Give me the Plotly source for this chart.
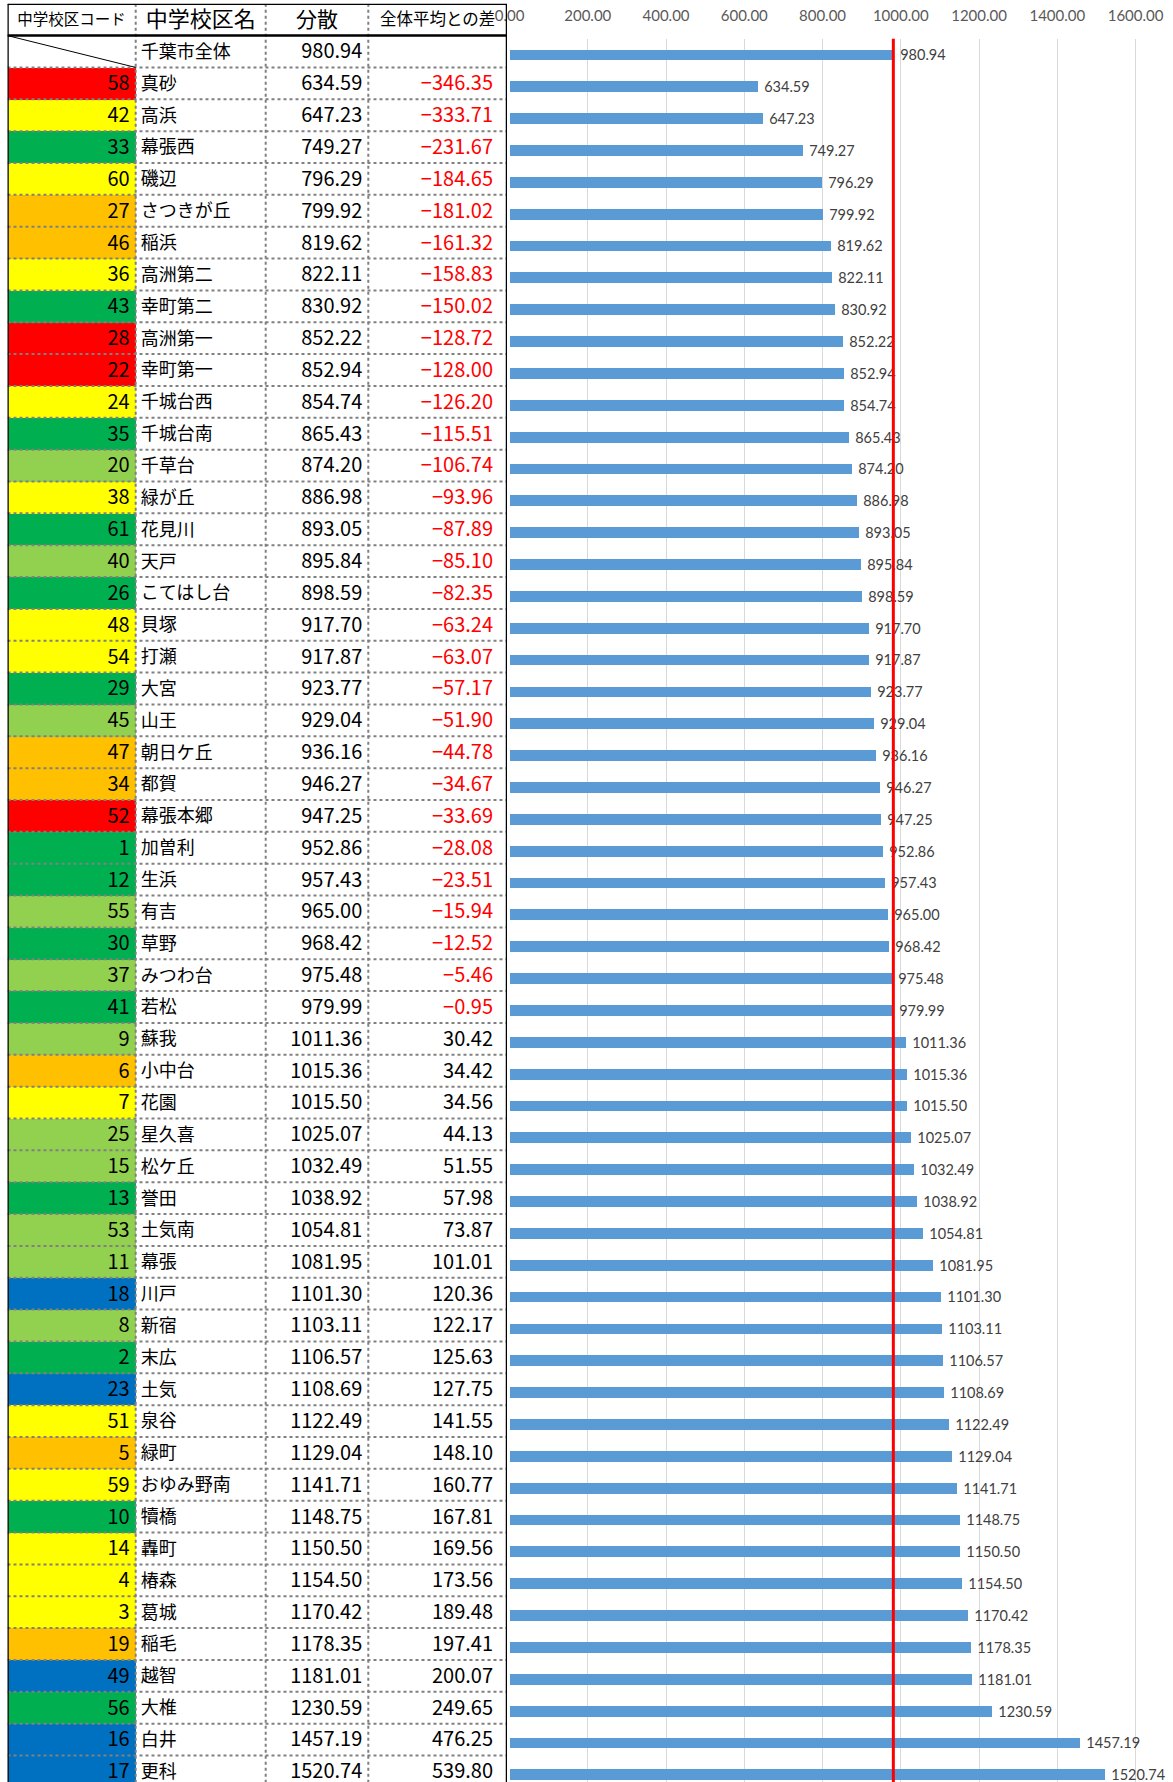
import plotly.graph_objects as go

# ---------------- data ----------------
codes = [None, 58, 42, 33, 60, 27, 46, 36, 43, 28, 22, 24, 35, 20, 38, 61, 40, 26, 48, 54, 29,
         45, 47, 34, 52, 1, 12, 55, 30, 37, 41, 9, 6, 7, 25, 15, 13, 53, 11, 18, 8,
         2, 23, 51, 5, 59, 10, 14, 4, 3, 19, 49, 56, 16, 17]

names = ["千葉市全体", "真砂", "高浜", "幕張西", "磯辺", "さつきが丘", "稲浜", "高洲第二", "幸町第二",
         "高洲第一", "幸町第一", "千城台西", "千城台南", "千草台", "緑が丘", "花見川", "天戸",
         "こてはし台", "貝塚", "打瀬", "大宮", "山王", "朝日ケ丘", "都賀", "幕張本郷", "加曽利",
         "生浜", "有吉", "草野", "みつわ台", "若松", "蘇我", "小中台", "花園", "星久喜", "松ケ丘",
         "誉田", "土気南", "幕張", "川戸", "新宿", "末広", "土気", "泉谷", "緑町", "おゆみ野南",
         "犢橋", "轟町", "椿森", "葛城", "稲毛", "越智", "大椎", "白井", "更科"]

variances = [980.94, 634.59, 647.23, 749.27, 796.29, 799.92, 819.62, 822.11, 830.92, 852.22,
             852.94, 854.74, 865.43, 874.20, 886.98, 893.05, 895.84, 898.59, 917.70, 917.87,
             923.77, 929.04, 936.16, 946.27, 947.25, 952.86, 957.43, 965.00, 968.42, 975.48,
             979.99, 1011.36, 1015.36, 1015.50, 1025.07, 1032.49, 1038.92, 1054.81, 1081.95,
             1101.30, 1103.11, 1106.57, 1108.69, 1122.49, 1129.04, 1141.71, 1148.75, 1150.50,
             1154.50, 1170.42, 1178.35, 1181.01, 1230.59, 1457.19, 1520.74]

diffs = [None, -346.35, -333.71, -231.67, -184.65, -181.02, -161.32, -158.83, -150.02, -128.72,
         -128.00, -126.20, -115.51, -106.74, -93.96, -87.89, -85.10, -82.35, -63.24, -63.07,
         -57.17, -51.90, -44.78, -34.67, -33.69, -28.08, -23.51, -15.94, -12.52, -5.46,
         -0.95, 30.42, 34.42, 34.56, 44.13, 51.55, 57.98, 73.87, 101.01, 120.36, 122.17,
         125.63, 127.75, 141.55, 148.10, 160.77, 167.81, 169.56, 173.56, 189.48, 197.41,
         200.07, 249.65, 476.25, 539.80]

groups = [None,
          "R", "Y", "G", "Y", "O", "O", "Y", "G", "R", "R",
          "Y", "G", "L", "Y", "G", "L", "G", "Y", "Y", "G",
          "L", "O", "O", "R", "G", "G", "L", "G", "L", "G",
          "L", "O", "Y", "L", "L", "G", "L", "L", "B", "L",
          "G", "B", "Y", "O", "Y", "G", "Y", "Y", "Y", "O",
          "B", "G", "B", "B"]

headers = ["中学校区コード", "中学校区名", "分散", "全体平均との差"]
city_average = 980.94
x_ticks = [0, 200, 400, 600, 800, 1000, 1200, 1400, 1600]

# ---------------- styling / layout constants ----------------
W, H = 1173, 1782
ROW_PX = 31.85
HEADER_BOTTOM = 35.6
CHART_TOP = 38.8
CHART_X0 = 509.5
PX_PER_UNIT = 0.3913
TABLE_X0, TABLE_X1 = 7.5, 507.0
col_edges = [0, 128.2, 258.2, 360.8, TABLE_X1 - TABLE_X0]
group_colors = {"R": "#FF0000", "Y": "#FFFF00", "G": "#00B050", "L": "#92D050",
                "O": "#FFC000", "B": "#0070C0", None: "#FFFFFF"}
JP = "Noto Sans CJK JP"
TEXT_DY = 0.06   # baseline nudge of table text inside a row

n = len(names)
rows = list(range(n))
text_rows = [r + TEXT_DY for r in rows]
y_bottom = -0.5 + (H - HEADER_BOTTOM) / ROW_PX
y_bottom_chart = -0.5 + (H - CHART_TOP) / ROW_PX
table_top_px = HEADER_BOTTOM - ROW_PX

fig = go.Figure()

# chart bars
fig.add_trace(go.Bar(
    x=variances, y=rows, orientation="h", width=0.34,
    marker=dict(color="#5B9BD5", line=dict(width=0)),
    text=["\u00a0" + f"{v:.2f}" for v in variances],
    textposition="outside", cliponaxis=False, constraintext="none",
    textfont=dict(family="Lato", size=14.5, color="#404040"),
    xaxis="x", yaxis="y", hoverinfo="skip", showlegend=False,
))

# code cell fills
fig.add_trace(go.Bar(
    x=[col_edges[1]] * n, y=rows, base=0, orientation="h", width=1,
    marker=dict(color=[group_colors[g] for g in groups], line=dict(width=0)),
    xaxis="x2", yaxis="y2", hoverinfo="skip", showlegend=False,
))

num_font = dict(family=JP, size=20, color="#000000")

# codes
fig.add_trace(go.Scatter(
    x=[col_edges[1] - 6] * n, y=text_rows, mode="text",
    text=["" if c is None else str(c) for c in codes],
    textposition="middle left", textfont=num_font, cliponaxis=False,
    xaxis="x2", yaxis="y2", hoverinfo="skip", showlegend=False,
))
# names
fig.add_trace(go.Scatter(
    x=[col_edges[1] + 5] * n, y=text_rows, mode="text", text=names,
    textposition="middle right", textfont=dict(family=JP, size=18, color="#000000"),
    cliponaxis=False, xaxis="x2", yaxis="y2", hoverinfo="skip", showlegend=False,
))
# variances
fig.add_trace(go.Scatter(
    x=[col_edges[3] - 6] * n, y=text_rows, mode="text",
    text=[f"{v:.2f}" for v in variances],
    textposition="middle left", textfont=num_font, cliponaxis=False,
    xaxis="x2", yaxis="y2", hoverinfo="skip", showlegend=False,
))
# diffs
fig.add_trace(go.Scatter(
    x=[col_edges[4] - 14] * n, y=text_rows, mode="text",
    text=["" if d is None else f"{d:.2f}".replace("-", "\u2212") for d in diffs],
    textposition="middle left", cliponaxis=False,
    textfont=dict(family=JP, size=20,
                  color=["#000000" if (d is None or d >= 0) else "#FF0000" for d in diffs]),
    xaxis="x2", yaxis="y2", hoverinfo="skip", showlegend=False,
))
# headers
fig.add_trace(go.Scatter(
    x=[(col_edges[i] + col_edges[i + 1]) / 2 for i in range(4)], y=[-0.95] * 4,
    mode="text", text=headers, textposition="middle center", cliponaxis=False,
    textfont=dict(family=JP, size=[15.5, 22, 21, 16.5], color="#000000"),
    xaxis="x2", yaxis="y2", hoverinfo="skip", showlegend=False,
))

shapes = []
tw = col_edges[-1]
dot_line = dict(color="#808080", width=2, dash="dot")
# row separators (dotted gray)
for i in range(0, n):
    shapes.append(dict(type="line", xref="x2", yref="y2", x0=0, x1=tw, y0=i + 0.5, y1=i + 0.5,
                       line=dot_line, layer="above"))
# column separators (dotted gray)
for xe in col_edges[1:4]:
    shapes.append(dict(type="line", xref="x2", yref="y2", x0=xe, x1=xe, y0=-1.5, y1=y_bottom,
                       line=dot_line, layer="above"))
# diagonal in first code cell
shapes.append(dict(type="line", xref="x2", yref="y2", x0=0, x1=col_edges[1], y0=-0.5, y1=0.5,
                   line=dict(color="#000000", width=1), layer="above"))
# header bottom thick
shapes.append(dict(type="line", xref="x2", yref="y2", x0=0, x1=tw, y0=-0.5, y1=-0.5,
                   line=dict(color="#000000", width=2.5), layer="above"))
# outer border
shapes.append(dict(type="line", xref="x2", yref="y2", x0=0, x1=tw, y0=-1.5, y1=-1.5,
                   line=dict(color="#000000", width=2.5), layer="above"))
shapes.append(dict(type="line", xref="x2", yref="y2", x0=0, x1=0, y0=-1.5, y1=y_bottom,
                   line=dict(color="#000000", width=2.5), layer="above"))
shapes.append(dict(type="line", xref="x2", yref="y2", x0=tw, x1=tw, y0=-1.5, y1=y_bottom,
                   line=dict(color="#000000", width=2.5), layer="above"))
# average red line
shapes.append(dict(type="line", xref="x", yref="y domain", x0=city_average, x1=city_average,
                   y0=0, y1=1, line=dict(color="#FF0000", width=3), layer="above"))

fig.update_layout(
    width=W, height=H, margin=dict(l=0, r=0, t=0, b=0, pad=0, autoexpand=False),
    paper_bgcolor="white", plot_bgcolor="white",
    shapes=shapes, bargap=0, barmode="overlay",
    xaxis=dict(domain=[CHART_X0 / W, 1], range=[0, (W - CHART_X0) / PX_PER_UNIT],
               side="top", tickvals=x_ticks, tickformat=".2f",
               tickfont=dict(family="Lato", size=15, color="#595959"),
               showgrid=True, gridcolor="#D9D9D9", gridwidth=1, zeroline=False,
               showline=False, ticks="", ticklabelstandoff=14, anchor="y",
               automargin=False),
    yaxis=dict(domain=[0, 1 - CHART_TOP / H], range=[y_bottom_chart, -0.5],
               showgrid=False, zeroline=False, showticklabels=False, anchor="x",
               automargin=False),
    xaxis2=dict(domain=[TABLE_X0 / W, TABLE_X1 / W], range=[0, tw], visible=False,
                anchor="y2", automargin=False),
    yaxis2=dict(domain=[0, 1 - table_top_px / H], range=[y_bottom, -1.5], visible=False,
                anchor="x2", automargin=False),
)

fig.write_html("out.html", config={"displayModeBar": False},
               post_script="document.body.style.margin='0';")
